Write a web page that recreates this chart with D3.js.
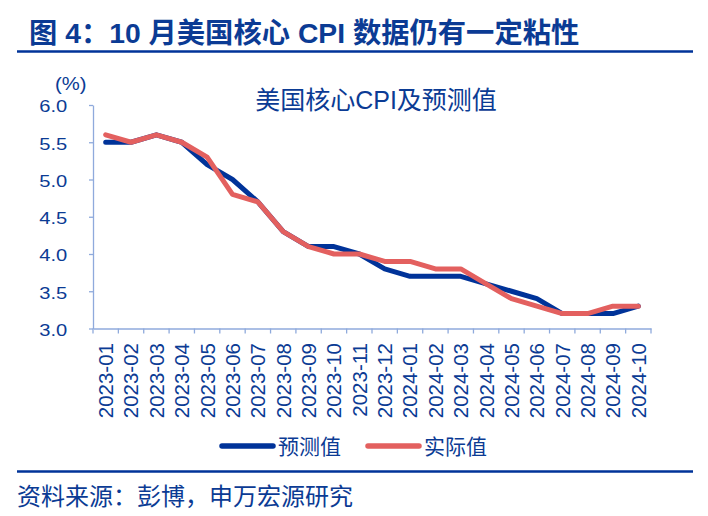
<!DOCTYPE html>
<html><head><meta charset="utf-8">
<script src="https://cdn.jsdelivr.net/npm/d3@7"></script>
<style>
html,body{margin:0;padding:0;background:#fff;}
text{font-family:"Liberation Sans",Arial,"Noto Sans CJK SC",sans-serif;}
</style></head>
<body>
<svg id="chart" width="708" height="516"></svg>
<script>
const months = ["2023-01","2023-02","2023-03","2023-04","2023-05","2023-06","2023-07","2023-08","2023-09","2023-10","2023-11","2023-12","2024-01","2024-02","2024-03","2024-04","2024-05","2024-06","2024-07","2024-08","2024-09","2024-10"];
const forecast = [5.5,5.5,5.6,5.5,5.2,5.0,4.7,4.3,4.1,4.1,4.0,3.8,3.7,3.7,3.7,3.6,3.5,3.4,3.2,3.2,3.2,3.3];
const actual   = [5.6,5.5,5.6,5.5,5.3,4.8,4.7,4.3,4.1,4.0,4.0,3.9,3.9,3.8,3.8,3.6,3.4,3.3,3.2,3.2,3.3,3.3];
const yTicks = [3.0,3.5,4.0,4.5,5.0,5.5,6.0];
const seriesNames = ["预测值","实际值"];
const titleText = "图 4：10 月美国核心 CPI 数据仍有一定粘性";
const chartTitle = "美国核心CPI及预测值";
const sourceText = "资料来源：彭博，申万宏源研究";

const navy = "#003399", red = "#E3605F", textCol = "#0B3B94", axisCol = "#8FAADC";
const svg = d3.select("#chart");

// header
svg.append("text").attr("x", 29).attr("y", 43).attr("fill", textCol)
  .attr("font-size", 28.3).attr("font-weight", "bold").text(titleText);
svg.append("line").attr("x1", 17).attr("x2", 693).attr("y1", 51.5).attr("y2", 51.5)
  .attr("stroke", navy).attr("stroke-width", 2.5);

const x = d3.scaleBand().domain(months).range([93, 651]).padding(0);
const y = d3.scaleLinear().domain([3, 6]).range([328.5, 105]);

// y axis
const gy = svg.append("g").attr("transform", "translate(93,0)")
  .call(d3.axisLeft(y).tickValues(yTicks).tickSize(4).tickSizeOuter(0).tickFormat(d3.format(".1f")));
gy.select(".domain").attr("stroke", axisCol).attr("stroke-width", 1.3);
gy.selectAll(".tick line").attr("stroke", axisCol).attr("stroke-width", 1.3);
gy.selectAll(".tick text").attr("fill", textCol).attr("font-size", 17)
  .attr("font-family", "Liberation Sans, Arial").attr("x", -25.7).attr("dy", "0.4em")
  .attr("textLength", 28).attr("lengthAdjust", "spacingAndGlyphs");

svg.append("text").attr("x", 55).attr("y", 89.5)
  .attr("fill", textCol).attr("font-size", 18)
  .attr("textLength", 31.5).attr("lengthAdjust", "spacingAndGlyphs").text("(%)");

// x axis
const gx = svg.append("g").attr("transform", "translate(0,328.5)")
  .call(d3.axisBottom(x).tickSize(0).tickSizeOuter(0));
gx.select(".domain").attr("stroke", axisCol).attr("stroke-width", 1.3);
gx.selectAll(".tick text").attr("fill", textCol).attr("font-size", 20.5)
  .attr("font-family", "Liberation Sans, Arial")
  .attr("text-anchor", "end").attr("transform", "rotate(-90)")
  .attr("x", -14.5).attr("y", 0).attr("dy", "0.36em");
const bounds = months.map(m => x(m)).concat([x.range()[1]]);
gx.selectAll(".bt").data(bounds).enter().append("line")
  .attr("x1", d => d).attr("x2", d => d).attr("y1", 0).attr("y2", 5)
  .attr("stroke", axisCol).attr("stroke-width", 1.3);

// chart title
svg.append("text").attr("x", 376).attr("y", 109).attr("text-anchor", "middle")
  .attr("fill", textCol).attr("font-size", 25).text(chartTitle);

// lines
const line = d3.line().x((d, i) => x(months[i]) + x.bandwidth() / 2).y(d => y(d));
[[forecast, navy], [actual, red]].forEach(([data, col]) => {
  svg.append("path").datum(data).attr("d", line).attr("fill", "none")
    .attr("stroke", col).attr("stroke-width", 5)
    .attr("stroke-linejoin", "round").attr("stroke-linecap", "round");
});

// legend
const legend = [{name: seriesNames[0], col: navy, x: 220}, {name: seriesNames[1], col: red, x: 366}];
legend.forEach(l => {
  svg.append("line").attr("x1", l.x + 2).attr("x2", l.x + 53).attr("y1", 446).attr("y2", 446)
    .attr("stroke", l.col).attr("stroke-width", 5.5).attr("stroke-linecap", "round");
  svg.append("text").attr("x", l.x + 58).attr("y", 454).attr("fill", textCol)
    .attr("font-size", 21).text(l.name);
});

// footer
svg.append("line").attr("x1", 17).attr("x2", 693).attr("y1", 471.5).attr("y2", 471.5)
  .attr("stroke", navy).attr("stroke-width", 2.5);
svg.append("text").attr("x", 17).attr("y", 505).attr("fill", textCol)
  .attr("font-size", 24).text(sourceText);
</script>
</body></html>
